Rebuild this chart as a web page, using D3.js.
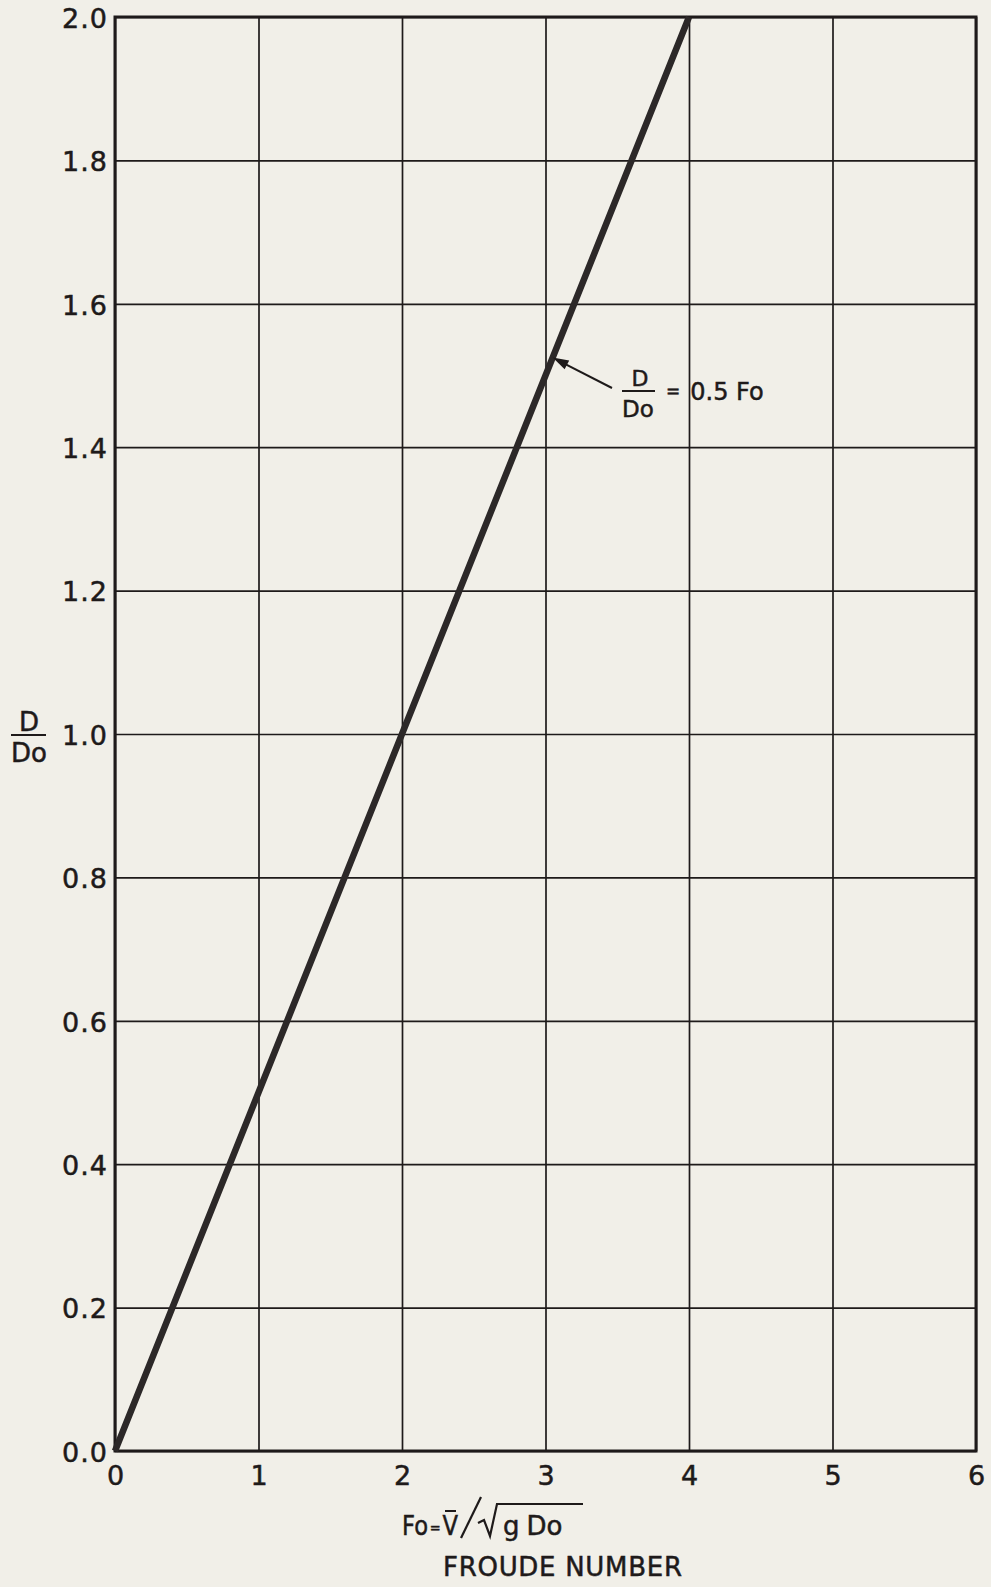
<!DOCTYPE html>
<html><head><meta charset="utf-8">
<script src="https://cdn.jsdelivr.net/npm/d3@7"></script>
<style>
html,body{margin:0;padding:0;background:#f1efe8;}
svg{display:block;}
text{font-family:"DejaVu Sans",sans-serif;fill:#1e1a1a;stroke:#1e1a1a;stroke-width:0.5px;}
</style></head><body>
<svg id="c" width="991" height="1587"></svg>
<script>
// data
const froude = [0, 1, 2, 3, 4];
const ratio = [0, 0.5, 1.0, 1.5, 2.0];
const xTicks = [0, 1, 2, 3, 4, 5, 6];
const yTicks = [0, 0.2, 0.4, 0.6, 0.8, 1.0, 1.2, 1.4, 1.6, 1.8, 2.0];
const xTickLabels = ["0", "1", "2", "3", "4", "5", "6"];
const yTickLabels = ["0.0", "0.2", "0.4", "0.6", "0.8", "1.0", "1.2", "1.4", "1.6", "1.8", "2.0"];
const annotation = {x: 3.05, y: 1.525, text: "0.5 Fo"};

const svg = d3.select("#c");
const L = 115, R = 976, T = 17, B = 1451;
const x = d3.scaleLinear().domain([0, 6]).range([L, R]);
const y = d3.scaleLinear().domain([0, 2]).range([B, T]);
const ink = "#1e1a1a";

svg.append("rect").attr("width", 991).attr("height", 1587).attr("fill", "#f1efe8");

// grid
const gx = svg.append("g").attr("transform", `translate(0,${B})`)
  .call(d3.axisBottom(x).tickValues(xTicks).tickSize(-(B - T)).tickFormat(""));
gx.select(".domain").remove();
gx.selectAll("line").attr("stroke", ink).attr("stroke-width", 1.7);
const gy = svg.append("g").attr("transform", `translate(${L},0)`)
  .call(d3.axisLeft(y).tickValues(yTicks).tickSize(-(R - L)).tickFormat(""));
gy.select(".domain").remove();
gy.selectAll("line").attr("stroke", ink).attr("stroke-width", 1.7);

// frame
svg.append("rect").attr("x", L).attr("y", T).attr("width", R - L).attr("height", B - T)
  .attr("fill", "none").attr("stroke", ink).attr("stroke-width", 3);

// tick labels
const ax = svg.append("g").attr("transform", `translate(0,${B})`)
  .call(d3.axisBottom(x).tickValues(xTicks).tickSize(0).tickPadding(14)
    .tickFormat((d, i) => xTickLabels[i]));
ax.select(".domain").remove();
ax.selectAll("text").attr("font-size", 27).attr("font-family", "DejaVu Sans").attr("fill", ink).attr("dy", "0.74em");

const ay = svg.append("g").attr("transform", `translate(${L},0)`)
  .call(d3.axisLeft(y).tickValues(yTicks).tickSize(0).tickPadding(7)
    .tickFormat((d, i) => yTickLabels[i]));
ay.select(".domain").remove();
ay.selectAll("text").attr("font-size", 27).attr("font-family", "DejaVu Sans").attr("fill", ink)
  .attr("dy", "0.38em").attr("letter-spacing", 1);

// data line
const pts = froude.map((f, i) => [f, ratio[i]]);
svg.append("path").datum(pts)
  .attr("d", d3.line().x(d => x(d[0])).y(d => y(d[1])))
  .attr("fill", "none").attr("stroke", "#2c2828").attr("stroke-width", 6.5).attr("stroke-linecap", "butt");

// y title D/Do
svg.append("text").attr("x", 29).attr("y", 731).attr("text-anchor", "middle").attr("font-size", 26).text("D");
svg.append("line").attr("x1", 11).attr("x2", 46).attr("y1", 735).attr("y2", 735).attr("stroke", ink).attr("stroke-width", 2);
svg.append("text").attr("x", 29).attr("y", 762).attr("text-anchor", "middle").attr("font-size", 26).text("Do");

// annotation
const tipX = x(annotation.x), tipY = y(annotation.y);
const sx = 612, sy = 388;
const ang = Math.atan2(tipY - sy, tipX - sx);
svg.append("line").attr("x1", sx).attr("y1", sy)
  .attr("x2", tipX - 12 * Math.cos(ang)).attr("y2", tipY - 12 * Math.sin(ang))
  .attr("stroke", ink).attr("stroke-width", 2);
const hl = 16, hw = 5;
const bx = tipX - hl * Math.cos(ang), by = tipY - hl * Math.sin(ang);
svg.append("path")
  .attr("d", `M${tipX},${tipY}L${bx + hw * Math.sin(ang)},${by - hw * Math.cos(ang)}L${bx - hw * Math.sin(ang)},${by + hw * Math.cos(ang)}Z`)
  .attr("fill", ink);
svg.append("text").attr("x", 640).attr("y", 386).attr("text-anchor", "middle").attr("font-size", 22).text("D");
svg.append("line").attr("x1", 622).attr("x2", 655).attr("y1", 391).attr("y2", 391).attr("stroke", ink).attr("stroke-width", 2);
svg.append("text").attr("x", 638).attr("y", 417).attr("text-anchor", "middle").attr("font-size", 23).text("Do");
const eq = svg.append("text").attr("x", 666).attr("y", 397).attr("font-size", 17);
eq.append("tspan").text("=");
eq.append("tspan").attr("dx", 10).attr("dy", 3).attr("font-size", 24).text(annotation.text);

// x title: Fo = V̄/√gDo
const fy = 1535;
const f1 = svg.append("text").attr("x", 402).attr("y", fy).attr("font-size", 26)
  .attr("textLength", 56).attr("lengthAdjust", "spacingAndGlyphs");
f1.append("tspan").text("Fo");
f1.append("tspan").attr("font-size", 15).attr("dx", 2).attr("dy", -2).text("=");
f1.append("tspan").attr("dx", 2).attr("dy", 2).text("V");
svg.append("line").attr("x1", 445).attr("x2", 456).attr("y1", 1511).attr("y2", 1511).attr("stroke", ink).attr("stroke-width", 2);
svg.append("line").attr("x1", 461).attr("y1", 1538).attr("x2", 481).attr("y2", 1497).attr("stroke", ink).attr("stroke-width", 2.2);
svg.append("path").attr("d", "M478,1523L484,1520L490,1536L497,1504L583,1504")
  .attr("fill", "none").attr("stroke", ink).attr("stroke-width", 2.2);
const f2 = svg.append("text").attr("x", 503).attr("y", fy).attr("font-size", 26);
f2.append("tspan").text("g");
f2.append("tspan").attr("dx", 7).text("Do");

svg.append("text").attr("x", 443).attr("y", 1576).attr("font-size", 26)
  .attr("textLength", 239).attr("lengthAdjust", "spacing").text("FROUDE NUMBER");
</script></body></html>
